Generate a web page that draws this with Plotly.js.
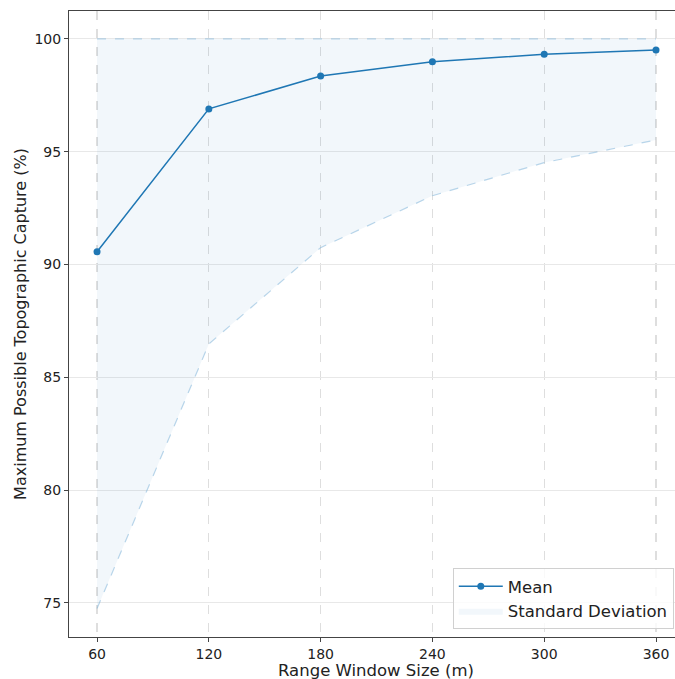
<!DOCTYPE html>
<html>
<head>
<meta charset="utf-8">
<script src="https://cdn.plot.ly/plotly-3.0.1.min.js"></script>
<style>html,body{margin:0;padding:0;background:#fff;}#chart{width:675px;height:679px;}</style>
</head>
<body>
<div id="chart"></div>
<script>
const windowSizes = [60, 120, 180, 240, 300, 360];
const meanCapture = [90.57, 96.9, 98.36, 98.99, 99.32, 99.51];
const upperBound = [100, 100, 100, 100, 100, 100];
const lowerBound = [74.75, 86.48, 90.75, 93.05, 94.52, 95.52];
const xTickLabels = ['60', '120', '180', '240', '300', '360'];
const yTicks = [75, 80, 85, 90, 95, 100];

const font = 'DejaVu Sans, sans-serif';
const bandLine = 'rgba(120,175,215,0.5)';

const traces = [
  {x: windowSizes, y: upperBound, mode: 'lines', showlegend: false, hoverinfo: 'skip',
   line: {color: bandLine, width: 1.2, dash: 'dash'}},
  {x: windowSizes, y: lowerBound, mode: 'lines', fill: 'tonexty', fillcolor: 'rgba(31,119,180,0.06)',
   name: 'Standard Deviation', legendrank: 2, line: {width: 0, color: 'rgba(0,0,0,0)'}},
  {x: windowSizes, y: lowerBound, mode: 'lines', showlegend: false, hoverinfo: 'skip',
   line: {color: bandLine, width: 1.2, dash: 'dash'}},
  {x: windowSizes, y: meanCapture, mode: 'lines+markers', name: 'Mean', legendrank: 1,
   line: {color: '#1f77b4', width: 1.5}, marker: {color: '#1f77b4', size: 7}}
];

const layout = {
  width: 675, height: 679,
  margin: {l: 69, r: 0, t: 11, b: 42},
  paper_bgcolor: '#fff', plot_bgcolor: '#fff',
  font: {family: font, size: 14, color: '#222'},
  showlegend: true,
  legend: {x: 0.998, xanchor: 'right', y: 0.0128, yanchor: 'bottom',
    bgcolor: 'rgba(255,255,255,0.8)', bordercolor: '#d0d0d0', borderwidth: 1,
    itemwidth: 44, tracegroupgap: 0,
    font: {family: font, size: 16.5, color: '#222'}, traceorder: 'normal'},
  xaxis: {
    range: [44.95, 370.2], tickvals: windowSizes, ticktext: xTickLabels,
    showline: true, mirror: true, linecolor: '#444', linewidth: 1,
    ticks: 'outside', ticklen: 4, tickcolor: '#444',
    showgrid: true, gridcolor: '#dedede', griddash: 'dash', gridwidth: 1.1,
    zeroline: false,
    tickfont: {family: font, size: 14, color: '#222'}
  },
  yaxis: {
    range: [73.49, 101.24], tickvals: yTicks,
    showline: true, mirror: false, linecolor: '#444', linewidth: 1,
    ticks: 'outside', ticklen: 4, tickcolor: '#444',
    showgrid: true, gridcolor: '#e8e8e8', gridwidth: 1,
    zeroline: false,
    tickfont: {family: font, size: 14, color: '#222'},
    title: {text: 'Maximum Possible Topographic Capture (%)', font: {family: font, size: 16, color: '#222'}, standoff: 3}
  },
  annotations: [{
    text: 'Range Window Size (m)', xref: 'paper', yref: 'paper',
    x: (376 - 69) / 606, y: (637 - 670) / 626, xanchor: 'center', yanchor: 'middle',
    showarrow: false, font: {family: font, size: 16.5, color: '#222'}
  }]
};

Plotly.newPlot('chart', traces, layout, {displayModeBar: false, staticPlot: true});
</script>
</body>
</html>
